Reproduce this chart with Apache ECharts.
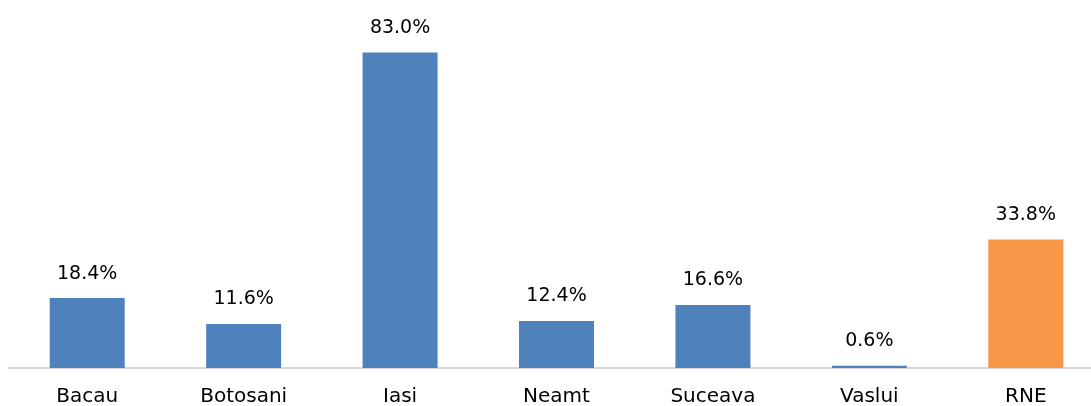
<!DOCTYPE html>
<html>
<head>
<meta charset="utf-8">
<style>
  html, body { margin: 0; padding: 0; background: #fff; }
  #chart { width: 1091px; height: 406px; }
</style>
<script src="https://cdn.jsdelivr.net/npm/echarts@6/dist/echarts.min.js"></script>
</head>
<body>
<div id="chart"></div>
<script>
const categories = ['Bacau', 'Botosani', 'Iasi', 'Neamt', 'Suceava', 'Vaslui', 'RNE']
const values = [18.4, 11.6, 83.0, 12.4, 16.6, 0.6, 33.8]
const barColors = ['#4f81bd', '#4f81bd', '#4f81bd', '#4f81bd', '#4f81bd', '#4f81bd', '#f79646']

const chart = echarts.init(document.getElementById('chart'))

chart.setOption({
  animation: false,
  textStyle: { fontFamily: 'DejaVu Sans' },
  grid: { left: 9, width: 1095, top: 26, height: 342, containLabel: false, outerBoundsMode: 'none' },
  xAxis: {
    type: 'category',
    data: categories,
    axisLine: { show: true, lineStyle: { color: '#d9d9d9', width: 2 } },
    axisTick: { show: false },
    axisLabel: { color: '#000', fontSize: 20, margin: 19 }
  },
  yAxis: {
    type: 'value',
    min: 0,
    max: 90,
    show: false,
    splitLine: { show: false }
  },
  series: [
    {
      type: 'bar',
      barWidth: 75,
      data: values.map((v, i) => ({ value: v, itemStyle: { color: barColors[i] } })),
      label: {
        show: true,
        position: 'top',
        distance: 15,
        color: '#000',
        fontSize: 19,
        formatter: p => p.value.toFixed(1) + '%'
      }
    }
  ]
})
</script>
</body>
</html>
